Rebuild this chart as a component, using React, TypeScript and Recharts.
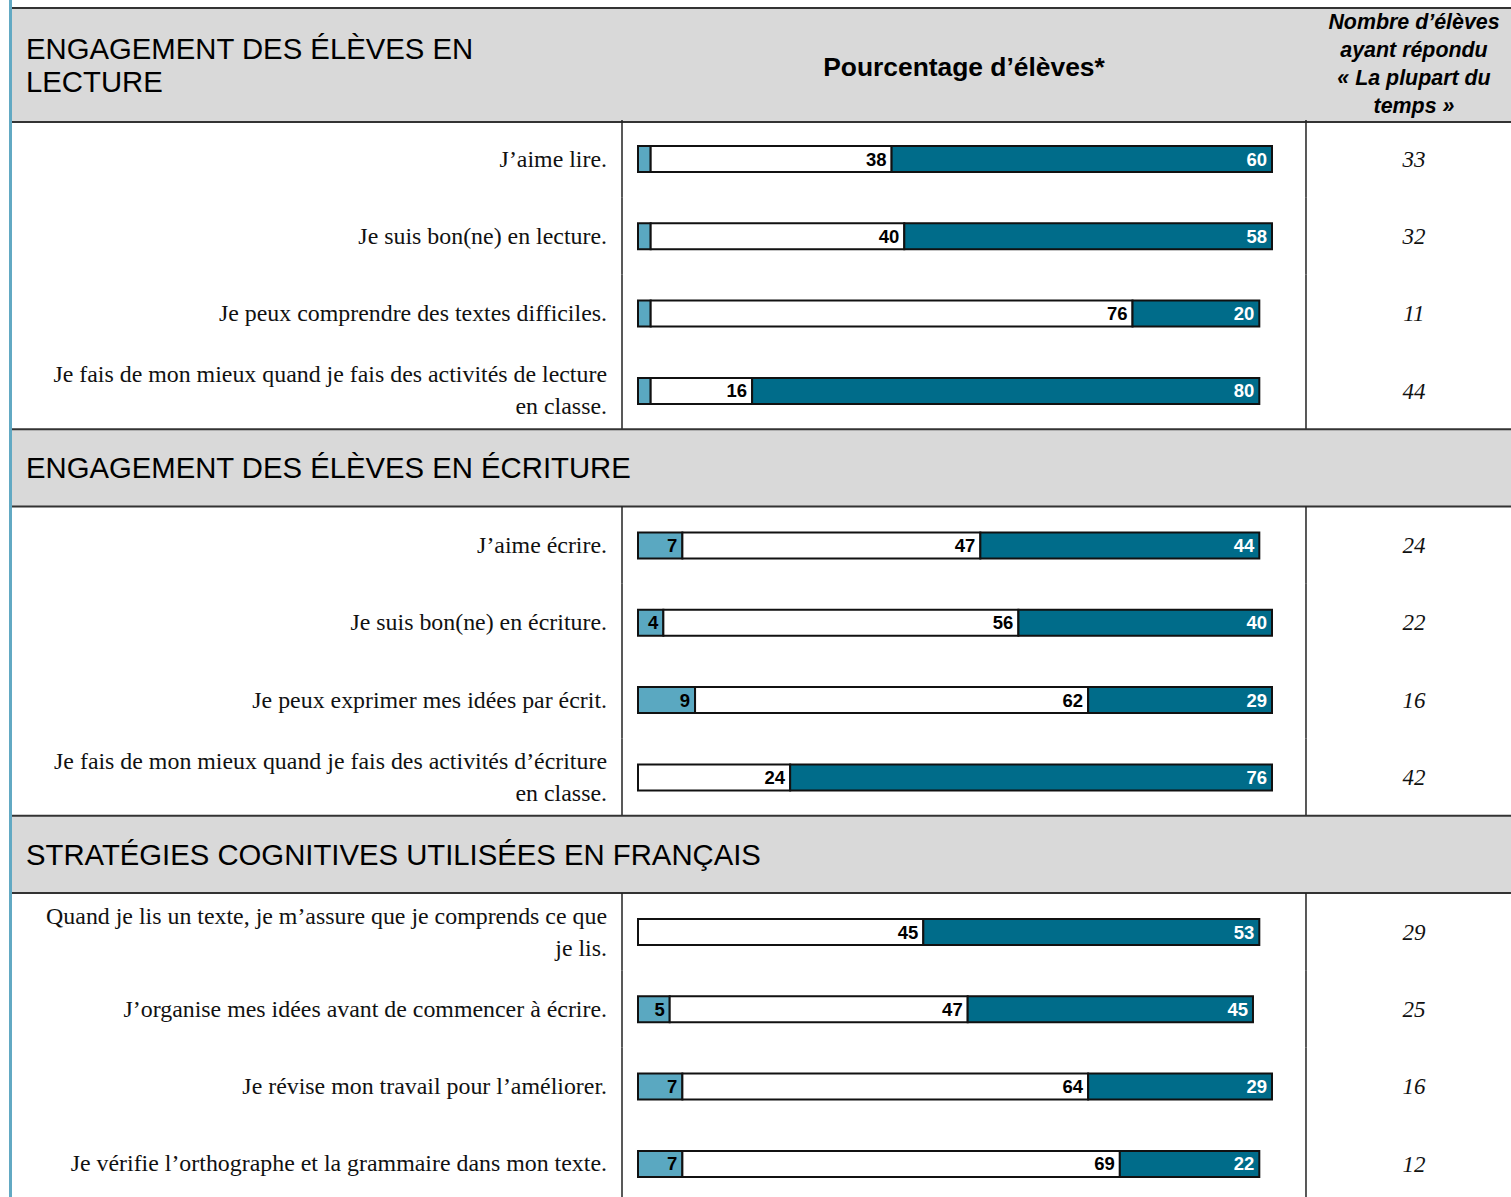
import React from "react";
import { Bar, BarChart, LabelList, XAxis, YAxis } from "recharts";

// section titles (first one sits in the header row)
const sectionTitles = [
  "ENGAGEMENT DES ÉLÈVES EN LECTURE",
  "ENGAGEMENT DES ÉLÈVES EN ÉCRITURE",
  "STRATÉGIES COGNITIVES UTILISÉES EN FRANÇAIS",
];

// statements per section ("\n" marks the line break)
const statements = [
  [
    "J’aime lire.",
    "Je suis bon(ne) en lecture.",
    "Je peux comprendre des textes difficiles.",
    "Je fais de mon mieux quand je fais des activités de lecture\nen classe.",
  ],
  [
    "J’aime écrire.",
    "Je suis bon(ne) en écriture.",
    "Je peux exprimer mes idées par écrit.",
    "Je fais de mon mieux quand je fais des activités d’écriture\nen classe.",
  ],
  [
    "Quand je lis un texte, je m’assure que je comprends ce que\nje lis.",
    "J’organise mes idées avant de commencer à écrire.",
    "Je révise mon travail pour l’améliorer.",
    "Je vérifie l’orthographe et la grammaire dans mon texte.",
  ],
];

// percentages: rarely / sometimes / most of the time
const rarely = [
  [2, 2, 2, 2],
  [7, 4, 9, 0],
  [0, 5, 7, 7],
];
const sometimes = [
  [38, 40, 76, 16],
  [47, 56, 62, 24],
  [45, 47, 64, 69],
];
const mostly = [
  [60, 58, 20, 80],
  [44, 40, 29, 76],
  [53, 45, 29, 22],
];
// number of students answering "most of the time"
const counts = [
  [33, 32, 11, 44],
  [24, 22, 16, 42],
  [29, 25, 16, 12],
];

const LIGHT = "#5aa8c1";
const DARK = "#006c8a";
const GREY = "#d9d9d9";
const SANS = "'Liberation Sans', Arial, sans-serif";
const SERIF = "'Liberation Serif', 'Times New Roman', serif";

type Row = {
  label: string;
  section?: string;
  rarely: number | null;
  sometimes: number | null;
  mostly: number | null;
  count: number | null;
};

const rows: Row[] = [];
sectionTitles.forEach((title, s) => {
  if (s > 0) {
    rows.push({ label: title, section: title, rarely: null, sometimes: null, mostly: null, count: null });
  }
  statements[s].forEach((label, i) => {
    rows.push({
      label,
      rarely: rarely[s][i],
      sometimes: sometimes[s][i],
      mostly: mostly[s][i],
      count: counts[s][i],
    });
  });
});

const ROW_H = 77.3;
const CHART_TOP = 120;
const WIDTH = 1511;

const RowTick = (props: any) => {
  const { y, payload } = props;
  const row = rows[payload.index];
  if (!row) return null;
  const top = y - ROW_H / 2;
  if (row.section) {
    return (
      <g>
        <rect x={12} y={top} width={WIDTH - 12} height={ROW_H} fill={GREY} />
        <line x1={12} x2={WIDTH} y1={top} y2={top} stroke="#333" strokeWidth={2} />
        <line x1={12} x2={WIDTH} y1={top + ROW_H} y2={top + ROW_H} stroke="#333" strokeWidth={2} />
        <text x={26} y={y} dy="0.36em" fontSize={29.3} fontFamily={SANS} fill="#000">
          {row.section}
        </text>
      </g>
    );
  }
  const lines = row.label.split("\n");
  const lh = 32;
  const first = y - ((lines.length - 1) * lh) / 2;
  return (
    <g>
      <line x1={622} x2={622} y1={top} y2={top + ROW_H} stroke="#222" strokeWidth={1.5} />
      <line x1={1306} x2={1306} y1={top} y2={top + ROW_H} stroke="#222" strokeWidth={1.5} />
      <text x={607} y={first} textAnchor="end" fontSize={23.9} fontFamily={SERIF} fill="#111">
        {lines.map((l, k) => (
          <tspan key={k} x={607} y={first + k * lh} dy="0.33em">
            {l}
          </tspan>
        ))}
      </text>
      <text
        x={1414}
        y={y}
        dy="0.35em"
        textAnchor="middle"
        fontSize={23}
        fontStyle="italic"
        fontFamily={SERIF}
        fill="#111"
      >
        {row.count}
      </text>
    </g>
  );
};

const fmtSmall = (v: any) => (v != null && v >= 4 ? v : "");
const fmt = (v: any) => (v != null && v > 0 ? v : "");

export default function App() {
  return (
    <div style={{ position: "relative", width: WIDTH, height: 1197, overflow: "hidden", background: "#fff" }}>
      <style>{`body{margin:0}`}</style>
      {/* left accent rule */}
      <div style={{ position: "absolute", left: 9, top: 0, width: 3, height: 1197, background: "#62a9c3" }} />
      {/* header row */}
      <div
        style={{
          position: "absolute",
          left: 12,
          top: 7,
          width: WIDTH - 12,
          height: 116,
          boxSizing: "border-box",
          background: GREY,
          borderTop: "2px solid #333",
          borderBottom: "2px solid #333",
        }}
      >
        <div
          style={{
            position: "absolute",
            left: 14,
            top: 22.5,
            width: 500,
            fontFamily: SANS,
            fontSize: 29.3,
            lineHeight: "33px",
            color: "#000",
          }}
        >
          {sectionTitles[0]}
        </div>
        <div
          style={{
            position: "absolute",
            left: 610,
            top: 43,
            width: 684,
            textAlign: "center",
            fontFamily: SANS,
            fontSize: 26.4,
            fontWeight: "bold",
            lineHeight: "30px",
            color: "#000",
          }}
        >
          Pourcentage d’élèves*
        </div>
        <div
          style={{
            position: "absolute",
            left: 1299,
            top: -1,
            width: 206,
            textAlign: "center",
            fontFamily: SANS,
            fontSize: 21.4,
            fontWeight: "bold",
            fontStyle: "italic",
            lineHeight: "28px",
            color: "#000",
          }}
        >
          Nombre d’élèves
          <br />
          ayant répondu
          <br />« La plupart du
          <br />
          temps »
        </div>
      </div>
      <div style={{ position: "absolute", left: 0, top: CHART_TOP }}>
        <BarChart
          width={WIDTH}
          height={ROW_H * rows.length}
          data={rows}
          layout="vertical"
          margin={{ top: 0, right: 239, bottom: 0, left: 0 }}
          barSize={26}
        >
          <XAxis type="number" domain={[0, 100]} hide />
          <YAxis
            type="category"
            dataKey="label"
            width={638}
            axisLine={false}
            tickLine={false}
            interval={0}
            tick={(p: any) => <RowTick {...p} />}
          />
          <Bar dataKey="rarely" stackId="a" fill={LIGHT} stroke="#111" strokeWidth={2} isAnimationActive={false}>
            <LabelList
              dataKey="rarely"
              position="insideRight"
              offset={5}
              formatter={fmtSmall}
              fill="#000"
              fontSize={18.5}
              fontWeight="bold"
              fontFamily={SANS}
            />
          </Bar>
          <Bar dataKey="sometimes" stackId="a" fill="#fff" stroke="#111" strokeWidth={2} isAnimationActive={false}>
            <LabelList
              dataKey="sometimes"
              position="insideRight"
              offset={5}
              formatter={fmt}
              fill="#000"
              fontSize={18.5}
              fontWeight="bold"
              fontFamily={SANS}
            />
          </Bar>
          <Bar dataKey="mostly" stackId="a" fill={DARK} stroke="#111" strokeWidth={2} isAnimationActive={false}>
            <LabelList
              dataKey="mostly"
              position="insideRight"
              offset={5}
              formatter={fmt}
              fill="#fff"
              fontSize={18.5}
              fontWeight="bold"
              fontFamily={SANS}
            />
          </Bar>
        </BarChart>
      </div>
    </div>
  );
}
